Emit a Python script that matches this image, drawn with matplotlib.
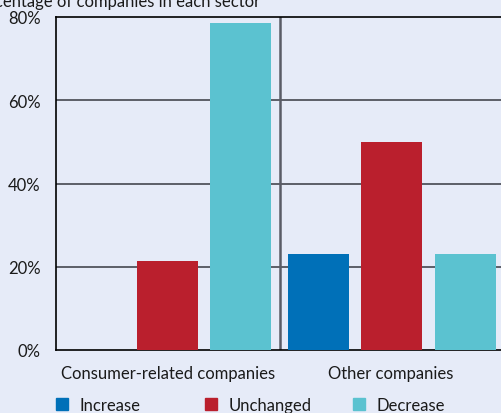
import matplotlib
matplotlib.use("Agg")
import matplotlib.pyplot as plt
import numpy as np

categories = ["Consumer-related companies", "Other companies"]
series_names = ["Increase", "Unchanged", "Decrease"]
increase = [0.0, 23.1]
unchanged = [21.4, 50.0]
decrease = [78.6, 23.1]
y_ticks = [0, 20, 40, 60, 80]
y_tick_labels = ["0%", "20%", "40%", "60%", "80%"]
title = "Percentage of companies in each sector"

colors = ["#0070B8", "#BA1F2D", "#5BC2D0"]
bg = "#E6EBF8"

plt.rcParams["font.family"] = ["Lato", "DejaVu Sans"]

W, H = 502, 414
fig = plt.figure(figsize=(W / 100, H / 100), dpi=100, facecolor=bg)
ax = fig.add_axes([56 / W, 1 - 351 / H, 1 - 56 / W, (351 - 18) / H])
ax.set_facecolor(bg)

x = np.arange(len(categories))
bw = 61 / 224
step = 73 / 224
for i, (vals, c) in enumerate(zip([increase, unchanged, decrease], colors)):
    ax.bar(x + (i - 1) * step, vals, width=bw, color=c, zorder=3,
           edgecolor="none")

ax.set_xlim(-0.5, 1.5 - 2 / 224)
ax.set_ylim(0, 80)
ax.set_yticks(y_ticks)
ax.set_yticklabels(y_tick_labels, fontsize=12, color="#1a1a1a")
ax.tick_params(axis="y", length=0, pad=11)
ax.set_xticks([])
for yv in y_ticks[1:-1]:
    ax.axhline(yv, color="#45474f", lw=1.2, zorder=1)
ax.axvline(0.5, color="#5a5c66", lw=1.8, zorder=2)

for s in ["top", "left", "bottom"]:
    ax.spines[s].set_color("black")
    ax.spines[s].set_linewidth(1.2)
ax.spines["right"].set_visible(False)

label_x = [168, 391]
for lx, cat in zip(label_x, categories):
    fig.text(lx / W, 1 - 374 / H, cat, ha="center", va="center",
             fontsize=12, color="#1a1a1a")

fig.text(260 / W, 1 - 2 / H, title, ha="right", va="center", fontsize=12,
         color="#1a1a1a")

leg_x = [56, 205, 353]
for hx, name, c in zip(leg_x, series_names, colors):
    fig.patches.append(plt.Rectangle((hx / W, 1 - 411 / H), 12 / W, 12 / H,
                                     transform=fig.transFigure, color=c))
    fig.text((hx + 24) / W, 1 - 406 / H, name, ha="left", va="center",
             fontsize=12, color="#1a1a1a")

fig.savefig("out.png", dpi=100, facecolor=bg)
